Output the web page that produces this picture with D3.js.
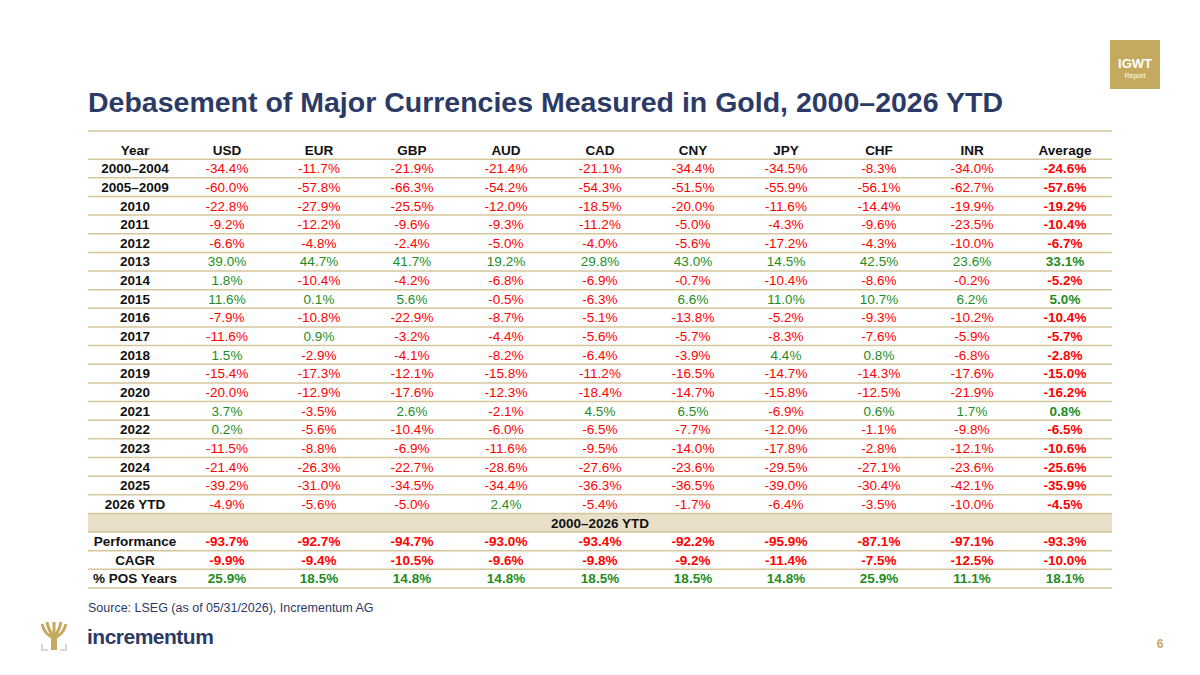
<!DOCTYPE html>
<html><head><meta charset="utf-8">
<script src="https://cdn.jsdelivr.net/npm/d3@7"></script>
<style>body{margin:0;background:#fff}svg{font-family:Arial,"Liberation Sans",sans-serif}</style>
</head><body><svg id="c" width="1200" height="675"></svg>
<script>
const columns=["Year","USD","EUR","GBP","AUD","CAD","CNY","JPY","CHF","INR","Average"];
const years=["2000–2004","2005–2009","2010","2011","2012","2013","2014","2015","2016","2017","2018","2019","2020","2021","2022","2023","2024","2025","2026 YTD"];
const USD=[-34.4,-60.0,-22.8,-9.2,-6.6,39.0,1.8,11.6,-7.9,-11.6,1.5,-15.4,-20.0,3.7,0.2,-11.5,-21.4,-39.2,-4.9];
const EUR=[-11.7,-57.8,-27.9,-12.2,-4.8,44.7,-10.4,0.1,-10.8,0.9,-2.9,-17.3,-12.9,-3.5,-5.6,-8.8,-26.3,-31.0,-5.6];
const GBP=[-21.9,-66.3,-25.5,-9.6,-2.4,41.7,-4.2,5.6,-22.9,-3.2,-4.1,-12.1,-17.6,2.6,-10.4,-6.9,-22.7,-34.5,-5.0];
const AUD=[-21.4,-54.2,-12.0,-9.3,-5.0,19.2,-6.8,-0.5,-8.7,-4.4,-8.2,-15.8,-12.3,-2.1,-6.0,-11.6,-28.6,-34.4,2.4];
const CAD=[-21.1,-54.3,-18.5,-11.2,-4.0,29.8,-6.9,-6.3,-5.1,-5.6,-6.4,-11.2,-18.4,4.5,-6.5,-9.5,-27.6,-36.3,-5.4];
const CNY=[-34.4,-51.5,-20.0,-5.0,-5.6,43.0,-0.7,6.6,-13.8,-5.7,-3.9,-16.5,-14.7,6.5,-7.7,-14.0,-23.6,-36.5,-1.7];
const JPY=[-34.5,-55.9,-11.6,-4.3,-17.2,14.5,-10.4,11.0,-5.2,-8.3,4.4,-14.7,-15.8,-6.9,-12.0,-17.8,-29.5,-39.0,-6.4];
const CHF=[-8.3,-56.1,-14.4,-9.6,-4.3,42.5,-8.6,10.7,-9.3,-7.6,0.8,-14.3,-12.5,0.6,-1.1,-2.8,-27.1,-30.4,-3.5];
const INR=[-34.0,-62.7,-19.9,-23.5,-10.0,23.6,-0.2,6.2,-10.2,-5.9,-6.8,-17.6,-21.9,1.7,-9.8,-12.1,-23.6,-42.1,-10.0];
const Average=[-24.6,-57.6,-19.2,-10.4,-6.7,33.1,-5.2,5.0,-10.4,-5.7,-2.8,-15.0,-16.2,0.8,-6.5,-10.6,-25.6,-35.9,-4.5];
const summaryLabels=["Performance","CAGR","% POS Years"];
const Performance=[-93.7,-92.7,-94.7,-93.0,-93.4,-92.2,-95.9,-87.1,-97.1,-93.3];
const CAGR=[-9.9,-9.4,-10.5,-9.6,-9.8,-9.2,-11.4,-7.5,-12.5,-10.0];
const POS=[25.9,18.5,14.8,14.8,18.5,18.5,14.8,25.9,11.1,18.1];

const series=[USD,EUR,GBP,AUD,CAD,CNY,JPY,CHF,INR,Average];
const svg=d3.select("#c");
const RED="#ff0000",GREEN="#1e8c1e",LINE="#d6c69c",NAVY="#2c3b66";
const x=d3.scaleOrdinal().domain(columns).range([135,227,319,412,506,600,693,786,879,972,1065]);
const rowsAll=["__h",...years,"__band",...summaryLabels];
const y=d3.scaleBand().domain(rowsAll).range([140.5,588]).padding(0);
const L=88,R=1112,FS=13.5;

svg.append("rect").attr("x",1110).attr("y",40).attr("width",50).attr("height",49).attr("fill","#c5a95e");
svg.append("text").attr("x",1135).attr("y",68).attr("text-anchor","middle").attr("fill","#fff").attr("font-weight","bold").attr("font-size",13).text("IGWT");
svg.append("text").attr("x",1135).attr("y",78).attr("text-anchor","middle").attr("fill","#fff").attr("font-size",7).text("Report");

svg.append("text").attr("x",88).attr("y",112).attr("fill",NAVY).attr("font-weight","bold").attr("font-size",28.5).text("Debasement of Major Currencies Measured in Gold, 2000–2026 YTD");

svg.append("rect").attr("x",L).attr("y",y("__band")).attr("width",R-L).attr("height",y.bandwidth()).attr("fill","#e9dfc9");
svg.append("line").attr("x1",L).attr("x2",R).attr("y1",131).attr("y2",131).attr("stroke",LINE).attr("stroke-width",1.5);
rowsAll.forEach(r=>{const yy=y(r)+y.bandwidth();
 svg.append("line").attr("x1",L).attr("x2",R).attr("y1",yy).attr("y2",yy).attr("stroke",LINE).attr("stroke-width",1.5);});

const fmt=v=>v.toFixed(1)+"%";
const col=v=>v>=0?GREEN:RED;
const ty=r=>y(r)+y.bandwidth()/2+4.8;
columns.forEach(c=>svg.append("text").attr("x",x(c)).attr("y",ty("__h")).attr("text-anchor","middle").attr("font-weight","bold").attr("font-size",FS).attr("fill","#111").text(c));
years.forEach((yr,i)=>{
 svg.append("text").attr("x",x("Year")).attr("y",ty(yr)).attr("text-anchor","middle").attr("font-weight","bold").attr("font-size",FS).attr("fill","#111").text(yr);
 series.forEach((s,j)=>svg.append("text").attr("x",x(columns[j+1])).attr("y",ty(yr)).attr("text-anchor","middle").attr("font-size",FS).attr("font-weight",j==9?"bold":"normal").attr("fill",col(s[i])).text(fmt(s[i])));
});
svg.append("text").attr("x",600).attr("y",ty("__band")).attr("text-anchor","middle").attr("font-weight","bold").attr("font-size",FS).attr("fill","#111").text("2000–2026 YTD");
[Performance,CAGR,POS].forEach((s,i)=>{const r=summaryLabels[i];
 svg.append("text").attr("x",x("Year")).attr("y",ty(r)).attr("text-anchor","middle").attr("font-weight","bold").attr("font-size",FS).attr("fill","#111").text(r);
 s.forEach((v,j)=>svg.append("text").attr("x",x(columns[j+1])).attr("y",ty(r)).attr("text-anchor","middle").attr("font-weight","bold").attr("font-size",FS).attr("fill",col(v)).text(fmt(v)));
});

svg.append("text").attr("x",88).attr("y",612).attr("font-size",12.5).attr("fill",NAVY).text("Source: LSEG (as of 05/31/2026), Incrementum AG");
const g=svg.append("g").attr("transform","translate(42,622)");
g.append("path").attr("d","M12,28 L12,16 C6,14 2,10 0,2 M12,16 C8,10 6,6 5,0 M12,16 L12,0 M12,16 C16,10 18,6 19,0 M12,16 C18,14 22,10 24,2").attr("stroke","#c5a95e").attr("stroke-width",3).attr("fill","none");
g.append("rect").attr("x",9).attr("y",16).attr("width",6).attr("height",12).attr("fill","#c5a95e");
g.append("path").attr("d","M0,22 L0,28 L6,28 M24,22 L24,28 L18,28").attr("stroke","#ccc").attr("stroke-width",1.5).attr("fill","none");
svg.append("text").attr("x",87).attr("y",644).attr("font-size",21).attr("font-weight","bold").attr("fill",NAVY).attr("letter-spacing",-0.5).text("incrementum");
svg.append("text").attr("x",1160).attr("y",648).attr("text-anchor","middle").attr("font-size",12).attr("font-weight","bold").attr("fill","#c5a95e").text("6");
</script></body></html>
